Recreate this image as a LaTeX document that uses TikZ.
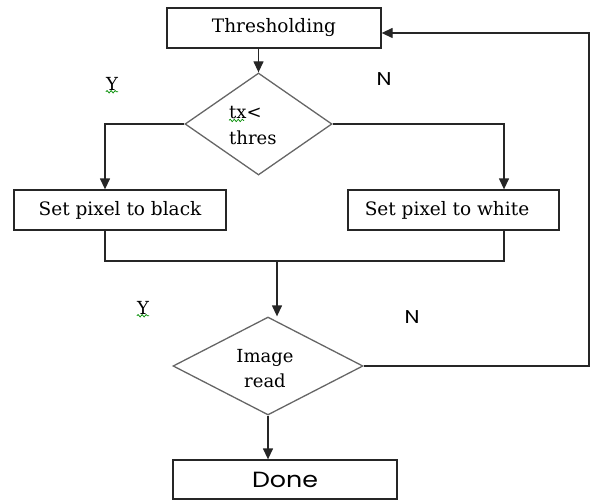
\documentclass[tikz,border=0pt]{standalone}
\usepackage{fontspec}
\setmainfont{DejaVu Serif}
\newfontfamily\gothic{Poppins}[FakeStretch=1.15]
\usetikzlibrary{shapes.geometric,arrows.meta,decorations.pathmorphing}
\tikzset{
  boxnode/.style={draw=black!85,line width=1.3pt,rectangle,inner sep=0pt,
    font=\fontsize{18.5}{20}\selectfont},
  decnode/.style={draw=black!60,line width=1.3pt,diamond,inner sep=0pt},
  txt/.style={inner sep=0pt,font=\fontsize{18}{20}\selectfont},
  lbl/.style={inner sep=0pt,font=\fontsize{18}{20}\selectfont},
  nlbl/.style={inner sep=0pt,font=\gothic\fontsize{18.5}{20}\selectfont},
  conn/.style={line width=1.3pt,black!85},
  arr/.style={conn,-{Triangle[width=10pt,length=11pt]}},
  squig/.style={draw=green!55!black,line width=0.7pt,
    decorate,decoration={snake,amplitude=1.2pt,segment length=4pt}}
}
\begin{document}
\begin{tikzpicture}[x=1pt,y=-1pt]
\useasboundingbox (0,0) rectangle (597,500);
% boxes
\node[boxnode,minimum width=214pt,minimum height=40pt] (thr) at (274,28) {Thresholding};
\node[boxnode,minimum width=212pt,minimum height=40pt] (blk) at (120,210) {Set pixel to black};
\node[boxnode,minimum width=211pt,minimum height=40pt] (wht) at (453.5,210) {};
\node[inner sep=0pt,font=\fontsize{18.5}{20}\selectfont] (whttxt) at (447,210) {Set pixel to white};
\node[boxnode,minimum width=224pt,minimum height=39pt,font=\gothic\fontsize{22}{24}\selectfont] (done) at (285,479.5) {Done};
% decisions
\node[decnode,minimum width=147pt,minimum height=102pt] (d1) at (258.5,124) {};
\node[decnode,minimum width=190pt,minimum height=98pt] (d2) at (268,366) {};
% decision texts
\node[txt,anchor=west] (t1a) at (229,113) {tx<};
\node[txt,anchor=west] (t1b) at (229,138) {thres};
\node[txt] (t2a) at (265,358) {Image};
\node[txt] (t2b) at (265,381) {read};
% labels
\node[lbl] (y1) at (112,84) {Y};
\node[lbl] (y2) at (143,308) {Y};
\node[nlbl] (n1) at (384,79) {N};
\node[nlbl] (n2) at (412,317) {N};
\draw[squig] ([yshift=-1pt]y1.south west) -- ([yshift=-1pt]y1.south east);
\draw[squig] ([yshift=-1pt]y2.south west) -- ([yshift=-1pt]y2.south east);
\draw[squig] ([yshift=-1pt]t1a.south west) -- ([xshift=15pt,yshift=-1pt]t1a.south west);
% junction coordinates
\coordinate (jl) at (105,261);
\coordinate (jr) at (504,261);
\coordinate (jm) at (277,261);
\coordinate (fb) at (589,33);
% connectors
\draw[arr] (thr.south -| d1.north) -- (d1.north);
\draw[arr] (d1.west) -| ([xshift=-15pt]blk.north);
\draw[arr] (d1.east) -| ([xshift=50.5pt]wht.north);
\draw[conn] ([xshift=-15pt]blk.south) -- (jl) -- (jr) -- ([xshift=50.5pt]wht.south);
\draw[arr] (jm) -- ([xshift=9pt]d2.north);
\draw[arr] (d2.south) -- (done.north -| d2.south);
\draw[arr] (d2.east) -| (fb) -- ([yshift=-5pt]thr.east);
\end{tikzpicture}
\end{document}
